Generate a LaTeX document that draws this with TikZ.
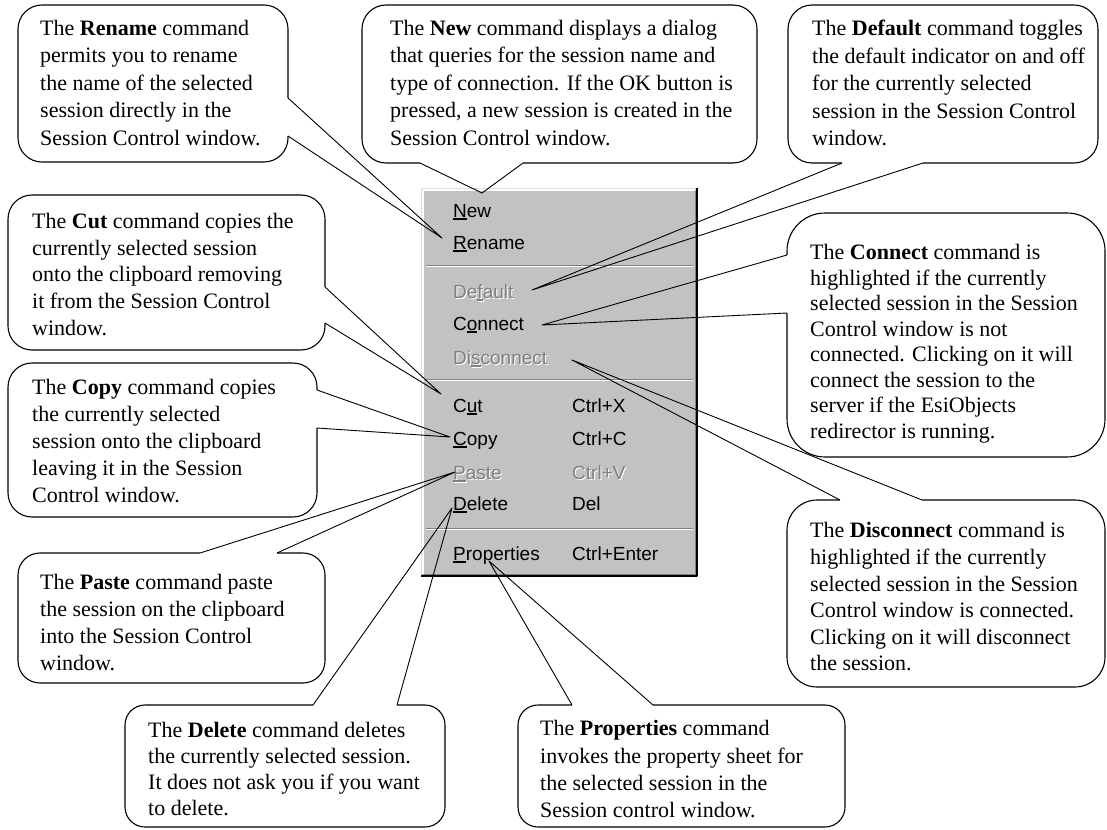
\documentclass[tikz,border=0pt]{standalone}
\usepackage{fontspec}
\setmainfont{Liberation Serif}
\newfontfamily\menufont{Liberation Sans}
\usetikzlibrary{calc}

\definecolor{menubg}{RGB}{194,194,194}
\definecolor{menudark}{RGB}{128,128,128}
\definecolor{menulight}{RGB}{223,223,223}

% mnemonic letter of a menu entry
\newcommand\mn[1]{\setbox0\hbox{#1}\rlap{\rule[-2.6pt]{\wd0}{1.3pt}}\box0}
% disabled (embossed) menu text
\newcommand\grayed[1]{\rlap{\kern1pt\raisebox{-1pt}{\color{white}#1}}{\color{menudark}#1}}
% pointer of a callout: opens the border between #1 and #2, tip at #3
\newcommand\callptr[3]{\draw[erase] (#1) -- (#2); \draw[ptr] (#1) -- (#3) -- (#2);}

\begin{document}
\begin{tikzpicture}[x=1pt,y=-1pt,line join=round,
  callbox/.style={draw=black, fill=white, line width=1.1pt, inner sep=0pt, rectangle},
  ctext/.style={anchor=north west, inner sep=0pt, align=left, font=\fontsize{22}{#1}\selectfont},
  ctext/.default=27,
  item/.style={anchor=base west, inner sep=0pt, font=\menufont\fontsize{19}{19}\selectfont},
  ptr/.style={draw=black, line width=0.9pt},
  erase/.style={draw=white, line width=3pt},
  sepdark/.style={draw=menudark, line width=1pt},
  seplight/.style={draw=white, line width=1pt}]
\useasboundingbox (0,0) rectangle (1107,829);

% ---- context menu ----
\node[fill=menubg, inner sep=0pt, minimum width=277pt, minimum height=388pt] (menu) at (559.5,382) {};
\draw[menulight, line width=1pt] (421.5,576) -- (421.5,188.5) -- (697,188.5);
\draw[white, line width=1.2pt] (423,574) -- (423,190) -- (695,190);
\draw[menudark, line width=1pt] (695,191) -- (695,574) -- (423,574);
\draw[black, line width=2.5pt] (697,188) -- (697,576) -- (421,576);

\draw[sepdark] (426,265.5) -- (693,265.5);  \draw[seplight] (426,266.8) -- (693,266.8);
\draw[sepdark] (426,379.5) -- (693,379.5);  \draw[seplight] (426,380.8) -- (693,380.8);
\draw[sepdark] (426,528.5) -- (693,528.5);  \draw[seplight] (426,529.8) -- (693,529.8);

\node[item] (mNew)    at (453,217) {\mn{N}ew};
\node[item] (mRename) at (453,249) {\mn{R}ename};
\node[item] (mDefault) at (453,298) {\grayed{De\mn{f}ault}};
\node[item] (mConnect) at (453,330) {C\mn{o}nnect};
\node[item] (mDisconnect) at (453,364) {\grayed{Di\mn{s}connect}};
\node[item] (mCut)    at (453,412) {C\mn{u}t};
\node[item] (mCopy)   at (453,445) {\mn{C}opy};
\node[item] (mPaste)  at (453,479) {\grayed{\mn{P}aste}};
\node[item] (mDelete) at (453,510) {\mn{D}elete};
\node[item] (mProps)  at (453,560) {\mn{P}roperties};
\node[item] (kCut)    at (572,412) {Ctrl+X};
\node[item] (kCopy)   at (572,445) {Ctrl+C};
\node[item] (kPaste)  at (572,479) {\grayed{Ctrl+V}};
\node[item] (kDelete) at (572,510) {Del};
\node[item] (kProps)  at (572,560) {Ctrl+Enter};

% ---- callout boxes ----
\node[callbox, rounded corners=24pt, minimum width=270pt, minimum height=157pt] (bRename) at (153,83.5) {};
\node[callbox, rounded corners=24pt, minimum width=395pt, minimum height=158pt] (bNew) at (559.5,84) {};
\node[callbox, rounded corners=24pt, minimum width=310pt, minimum height=158pt] (bDefault) at (943,84) {};
\node[callbox, rounded corners=24pt, minimum width=317pt, minimum height=155pt] (bCut) at (166.5,272.5) {};
\node[callbox, rounded corners=24pt, minimum width=309pt, minimum height=154pt] (bCopy) at (162.5,440) {};
\node[callbox, rounded corners=22pt, minimum width=307pt, minimum height=130pt] (bPaste) at (171.5,618) {};
\node[callbox, rounded corners=20pt, minimum width=320pt, minimum height=122pt] (bDelete) at (285,766) {};
\node[callbox, rounded corners=20pt, minimum width=327pt, minimum height=122pt] (bProps) at (681.5,766) {};
\node[callbox, rounded corners=38pt, minimum width=318pt, minimum height=244pt] (bConnect) at (946,335) {};
\node[callbox, rounded corners=30pt, minimum width=318pt, minimum height=187pt] (bDisconnect) at (946,593.5) {};

% ---- callout texts ----
\node[ctext=27.5] (tRename) at (40,20) {The \textbf{Rename} command\\permits you to rename\\the name of the selected\\session directly in the\\Session Control window.};
\node[ctext=27.5] (tNew) at (390,20) {The \textbf{New} command displays a dialog\\that queries for the session name and\\type of connection. If the OK button is\\pressed, a new session is created in the\\Session Control window.};
\node[ctext=27.5] (tDefault) at (812,20) {The \textbf{Default} command toggles\\the default indicator on and off\\for the currently selected\\session in the Session Control\\window.};
\node[ctext=26.75] (tCut) at (32,213) {The \textbf{Cut} command copies the\\currently selected session\\onto the clipboard removing\\it from the Session Control\\window.};
\node[ctext=27] (tCopy) at (32,379.5) {The \textbf{Copy} command copies\\the currently selected\\session onto the clipboard\\leaving it in the Session\\Control window.};
\node[ctext=26.7] (tPaste) at (40,574.5) {The \textbf{Paste} command paste\\the session on the clipboard\\into the Session Control\\window.};
\node[ctext=26] (tDelete) at (148,722.5) {The \textbf{Delete} command deletes\\the currently selected session.\\It does not ask you if you want\\to delete.};
\node[ctext=27.3] (tProps) at (540,720.5) {The \textbf{Properties} command\\invokes the property sheet for\\the selected session in the\\Session control window.};
\node[ctext=25.5] (tConnect) at (810,244.5) {The \textbf{Connect} command is\\highlighted if the currently\\selected session in the Session\\Control window is not\\connected. Clicking on it will\\connect the session to the\\server if the EsiObjects\\redirector is running.};
\node[ctext=26.6] (tDisconnect) at (810,522.5) {The \textbf{Disconnect} command is\\highlighted if the currently\\selected session in the Session\\Control window is connected.\\Clicking on it will disconnect\\the session.};

% ---- pointer bases and tips ----
\coordinate (rnA) at (288,98);   \coordinate (rnB) at (288,136);  \coordinate (rnT) at (442,238);
\coordinate (nwA) at (420,163);  \coordinate (nwB) at (523,163);  \coordinate (nwT) at (482,193);
\coordinate (dfA) at (842,163);  \coordinate (dfB) at (923,163);  \coordinate (dfT) at (532,290);
\coordinate (cnA) at (787,255);  \coordinate (cnB) at (787,313);  \coordinate (cnT) at (542,325);
\coordinate (dcA) at (840,500);  \coordinate (dcB) at (922,500);  \coordinate (dcT) at (572,360);
\coordinate (ctA) at (325,287);  \coordinate (ctB) at (325,323);  \coordinate (ctT) at (441,394);
\coordinate (cpA) at (317,390);  \coordinate (cpB) at (317,428);  \coordinate (cpT) at (450,437);
\coordinate (psA) at (200,553);  \coordinate (psB) at (277,553);  \coordinate (psT) at (455,472);
\coordinate (dlA) at (313,705);  \coordinate (dlB) at (397,705);  \coordinate (dlT) at (452,508);
\coordinate (prA) at (572,705);  \coordinate (prB) at (653,705);  \coordinate (prT) at (489,561);

\callptr{rnA}{rnB}{rnT}
\callptr{nwA}{nwB}{nwT}
\callptr{dfA}{dfB}{dfT}
\callptr{cnA}{cnB}{cnT}
\callptr{dcA}{dcB}{dcT}
\callptr{ctA}{ctB}{ctT}
\callptr{cpA}{cpB}{cpT}
\callptr{psA}{psB}{psT}
\callptr{dlA}{dlB}{dlT}
\callptr{prA}{prB}{prT}
\end{tikzpicture}
\end{document}
